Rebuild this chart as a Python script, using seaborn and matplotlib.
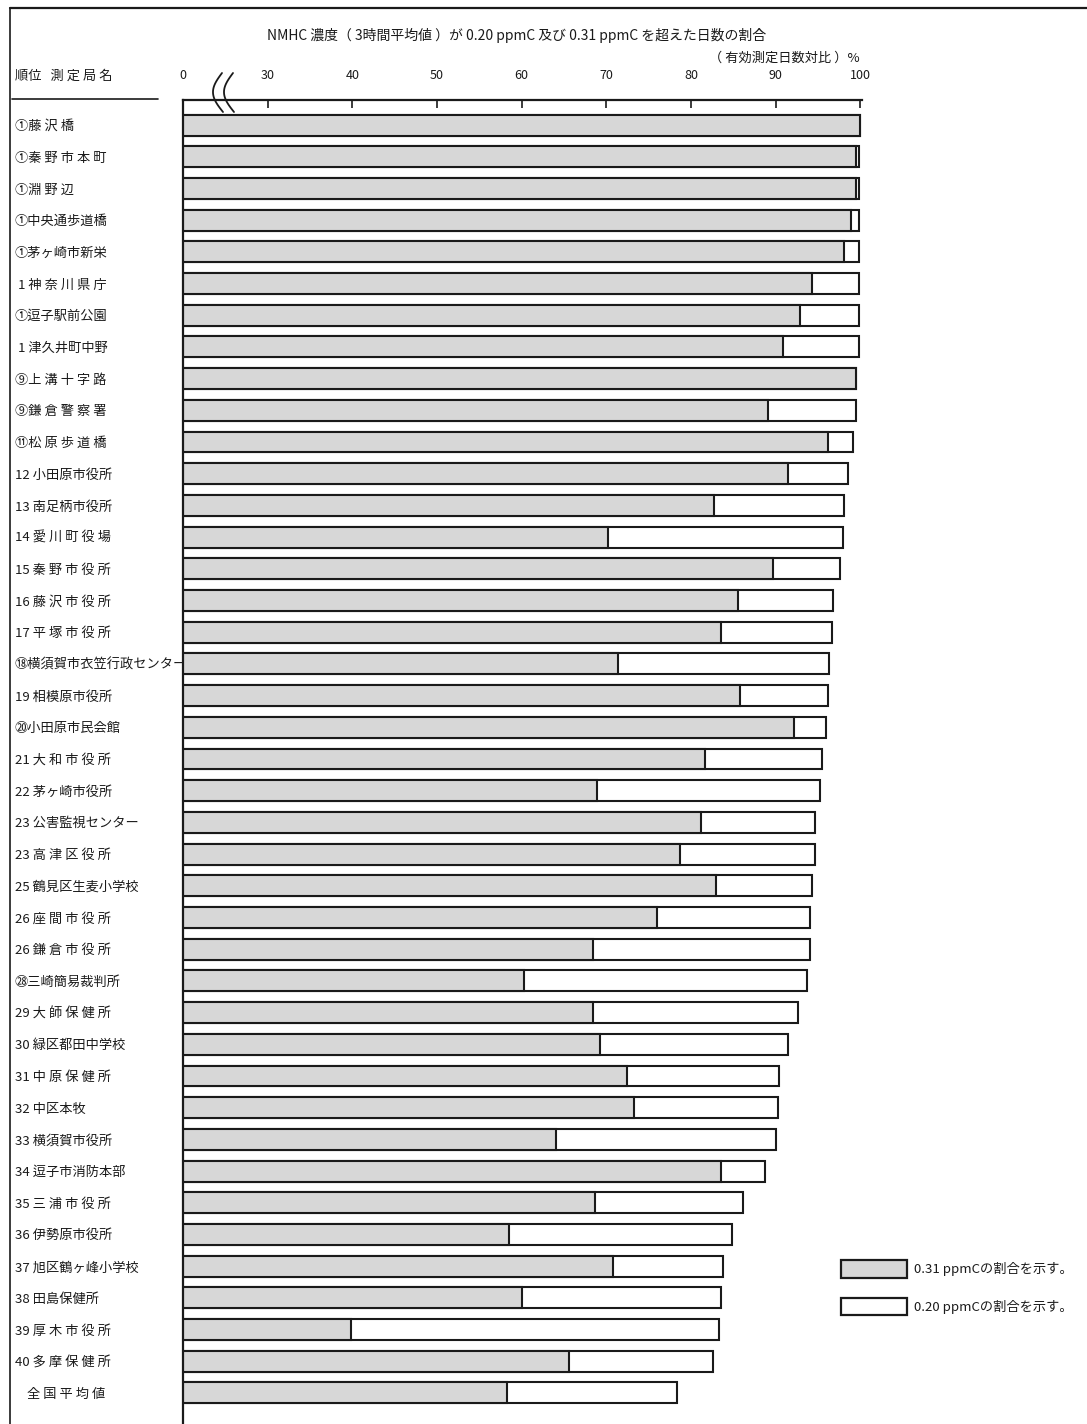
import numpy as np
import pandas as pd
import seaborn as sns
import matplotlib
matplotlib.use('Agg')
import matplotlib.pyplot as plt
from matplotlib.lines import Line2D
from matplotlib.patches import Patch

# 測定局（順位付き）
stations = [
    '①藤 沢 橋', '①秦 野 市 本 町', '①淵 野 辺', '①中央通歩道橋', '①茅ヶ崎市新栄',
    ' 1 神 奈 川 県 庁', '①逗子駅前公園', ' 1 津久井町中野', '⑨上 溝 十 字 路', '⑨鎌 倉 警 察 署',
    '⑪松 原 歩 道 橋', '12 小田原市役所', '13 南足柄市役所', '14 愛 川 町 役 場', '15 秦 野 市 役 所',
    '16 藤 沢 市 役 所', '17 平 塚 市 役 所', '⑱横須賀市衣笠行政センター', '19 相模原市役所', '⑳小田原市民会館',
    '21 大 和 市 役 所', '22 茅ヶ崎市役所', '23 公害監視センター', '23 高 津 区 役 所', '25 鶴見区生麦小学校',
    '26 座 間 市 役 所', '26 鎌 倉 市 役 所', '㉘三崎簡易裁判所', '29 大 師 保 健 所', '30 緑区都田中学校',
    '31 中 原 保 健 所', '32 中区本牧', '33 横須賀市役所', '34 逗子市消防本部', '35 三 浦 市 役 所',
    '36 伊勢原市役所', '37 旭区鶴ヶ峰小学校', '38 田島保健所', '39 厚 木 市 役 所', '40 多 摩 保 健 所',
    '    全 国 平 均 値',
]

# 0.20 ppmC を超えた日数の割合 (%)
pct_020 = [100.0, 99.9, 99.8, 99.9, 99.9, 99.9, 99.9, 99.9, 99.5, 99.5,
           99.1, 98.6, 98.1, 97.9, 97.6, 96.8, 96.6, 96.3, 96.2, 95.9,
           95.5, 95.2, 94.6, 94.6, 94.3, 94.0, 94.0, 93.7, 92.6, 91.5,
           90.4, 90.3, 90.1, 88.8, 86.1, 84.8, 83.8, 83.5, 83.3, 82.6,
           78.4]

# 0.31 ppmC を超えた日数の割合 (%)
pct_031 = [100.0, 99.5, 99.5, 98.9, 98.1, 94.3, 92.9, 90.9, 99.5, 89.1,
           96.2, 91.5, 82.7, 70.2, 89.7, 85.6, 83.5, 71.4, 85.8, 92.2,
           81.6, 68.9, 81.2, 78.7, 82.9, 76.0, 68.4, 60.3, 68.4, 69.3,
           72.4, 73.3, 64.1, 83.6, 68.7, 58.5, 70.8, 60.0, 39.9, 65.6,
           58.3]

x_ticks = [20, 30, 40, 50, 60, 70, 80, 90, 100]
x_tick_labels = ['0', '30', '40', '50', '60', '70', '80', '90', '100']

df = pd.DataFrame({'station': stations, 'p020': pct_020, 'p031': pct_031})

sns.set_style('white')
plt.rcParams['font.family'] = ['Noto Sans CJK JP', 'DejaVu Sans']
ink = '#1a1a1a'
gray = '#d7d7d7'

W, H = 1087, 1424
fig = plt.figure(figsize=(W / 100, H / 100), dpi=100)
ax = fig.add_axes([183 / W, 0, 679 / W, 1324 / H])

sns.barplot(data=df, y='station', x='p020', color='white', saturation=1,
            edgecolor=ink, linewidth=1.5, width=0.66, orient='h', ax=ax)
sns.barplot(data=df, y='station', x='p031', color=gray, saturation=1,
            edgecolor=ink, linewidth=1.5, width=0.66, orient='h', ax=ax)

ax.set_xlim(20, 100.2)
ax.set_ylim(40.98, -0.79)
ax.set_xlabel('')
ax.set_ylabel('')

ax.xaxis.tick_top()
ax.set_xticks(x_ticks)
ax.set_xticklabels(x_tick_labels)
ax.tick_params(axis='x', direction='in', length=6, width=1.2, pad=13,
               labelsize=9, colors=ink, top=True, bottom=False)
ax.tick_params(axis='y', length=0, pad=121, labelsize=9.5, labelcolor=ink)
for lbl in ax.get_yticklabels():
    lbl.set_ha('left')

for s in ['right', 'bottom']:
    ax.spines[s].set_visible(False)
for s in ['top', 'left']:
    ax.spines[s].set_linewidth(1.6)
    ax.spines[s].set_color(ink)

# 軸の省略記号
t = np.linspace(0, 1, 40)
for x0 in (222, 233):
    xs = (x0 + t - 9.5 * np.sin(np.pi * t)) / W
    ys = 1 - (73 + 39 * t) / H
    fig.add_artist(Line2D(xs, ys, color=ink, lw=1.3))

# 見出し
fig.text(517 / W, 1 - 35 / H,
         'NMHC 濃度（ 3時間平均値 ）が 0.20 ppmC 及び 0.31 ppmC を超えた日数の割合',
         ha='center', va='center', fontsize=10, color=ink)
fig.text(860 / W, 1 - 58 / H, '（ 有効測定日数対比 ）%',
         ha='right', va='center', fontsize=9.5, color=ink)
fig.text(15 / W, 1 - 76 / H, '順位   測 定 局 名',
         ha='left', va='center', fontsize=9.5, color=ink)
fig.add_artist(Line2D([12 / W, 158 / W], [1 - 99 / H] * 2, color=ink, lw=1.2))

# 外枠
fig.add_artist(Line2D([10 / W, 10 / W], [0, 1 - 8 / H], color=ink, lw=1.2))
fig.add_artist(Line2D([10 / W, 1], [1 - 8 / H] * 2, color=ink, lw=1.6))

handles = [Patch(facecolor=gray, edgecolor=ink, lw=1.6),
           Patch(facecolor='white', edgecolor=ink, lw=1.6)]
fig.legend(handles, ['0.31 ppmCの割合を示す。', '0.20 ppmCの割合を示す。'],
           loc='upper left', bbox_to_anchor=(841 / W, 1 - 1260 / H),
           frameon=False, fontsize=9.5, handlelength=5.0, handleheight=1.7,
           labelspacing=1.5, handletextpad=0.5, borderpad=0, borderaxespad=0,
           labelcolor=ink)

fig.savefig('out.png', dpi=100)
